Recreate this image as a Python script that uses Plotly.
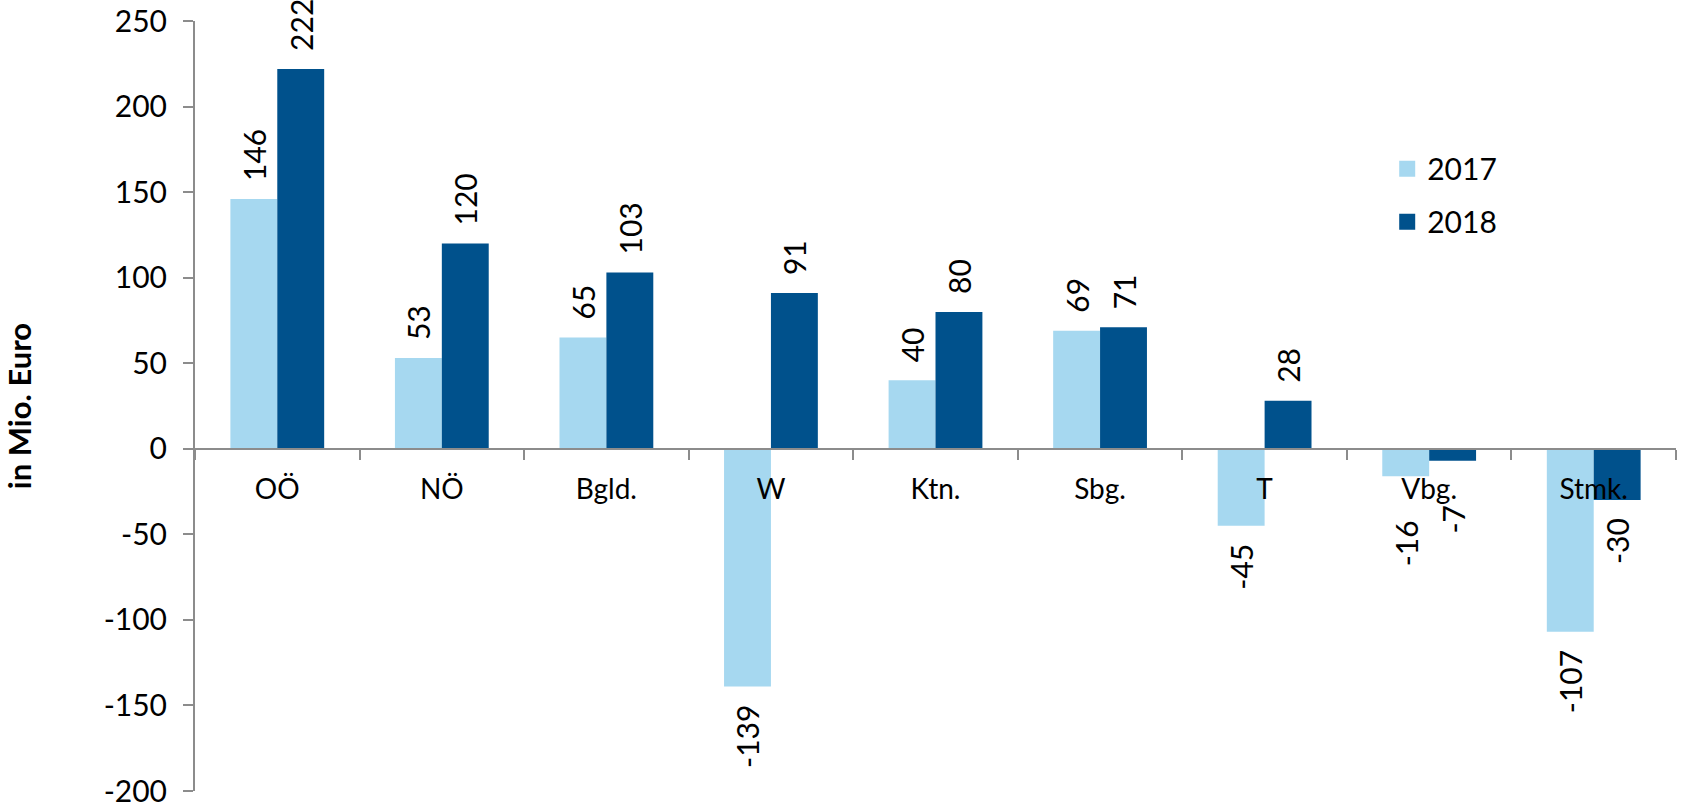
import plotly.graph_objects as go

categories = ["OÖ", "NÖ", "Bgld.", "W", "Ktn.", "Sbg.", "T", "Vbg.", "Stmk."]
values_2017 = [146, 53, 65, -139, 40, 69, -45, -16, -107]
values_2018 = [222, 120, 103, 91, 80, 71, 28, -7, -30]
series_names = ["2017", "2018"]
y_ticks = [-200, -150, -100, -50, 0, 50, 100, 150, 200, 250]
y_ticktext = ["-200", "-150", "-100", "-50", "0", "50", "100", "150", "200", "250"]

FONT = "Lato"
FS = 30
c2017 = "#A6D8F0"
c2018 = "#00518C"
PAD = "\u2002"              # gap between bar end and its label
EXTRA = "\u2003\u2009"      # push small negative labels below the category labels


def label(v):
    if v >= 0:
        return PAD + str(v)
    if v > -25:
        return str(v) + PAD + EXTRA
    return str(v) + PAD


fig = go.Figure()
for name, vals, col in [(series_names[0], values_2017, c2017),
                         (series_names[1], values_2018, c2018)]:
    fig.add_trace(go.Bar(
        x=categories, y=vals, name=name, marker=dict(color=col, line=dict(width=0)),
        text=[label(v) for v in vals], textposition="outside", textangle=-90,
        constraintext="none", cliponaxis=False, showlegend=False,
        textfont=dict(family=FONT, size=FS, color="black"),
    ))

# legend entries with larger square swatches
for name, col, grp in [(series_names[0], c2017, "a"), (series_names[1], c2018, "b")]:
    fig.add_trace(go.Scatter(
        x=[None], y=[None], mode="markers", name=name, legendgroup=grp,
        marker=dict(symbol="square", size=18, color=col),
    ))

ymin, ymax = -200, 250
zero_pos = (0 - ymin) / (ymax - ymin)

fig.update_layout(
    width=1684, height=804,
    paper_bgcolor="white", plot_bgcolor="white",
    margin=dict(l=195, r=8, t=21, b=13),
    barmode="group", bargap=0.43, bargroupgap=0,
    font=dict(family=FONT, size=FS, color="black"),
    legend=dict(x=0.805, y=0.842, xanchor="left", yanchor="top",
                font=dict(family=FONT, size=FS), tracegroupgap=11,
                itemwidth=30, bgcolor="rgba(0,0,0,0)"),
    xaxis=dict(anchor="free", position=zero_pos, showline=True, linecolor="#8C8C8C",
               linewidth=2, ticks="outside", tickson="boundaries", ticklen=10,
               tickcolor="#8C8C8C", tickwidth=2, showgrid=False, automargin=False,
               ticklabeloverflow="allow",
               tickfont=dict(family=FONT, size=28), ticklabelstandoff=16),
    yaxis=dict(range=[ymin, ymax], tickvals=y_ticks, ticktext=y_ticktext,
               showline=True, linecolor="#8C8C8C", automargin=False,
               ticklabeloverflow="allow",
               linewidth=2, ticks="outside", ticklen=10, tickcolor="#8C8C8C", tickwidth=2,
               showgrid=False, zeroline=False, ticklabelstandoff=10,
               tickfont=dict(family=FONT, size=FS),
               title=dict(text="<b>in Mio. Euro</b>", standoff=75,
                          font=dict(family=FONT, size=31))),
)

fig.write_html(
    "out.html",
    config={"displayModeBar": False},
    post_script="document.body.style.margin='0';document.body.style.overflow='hidden';",
)
